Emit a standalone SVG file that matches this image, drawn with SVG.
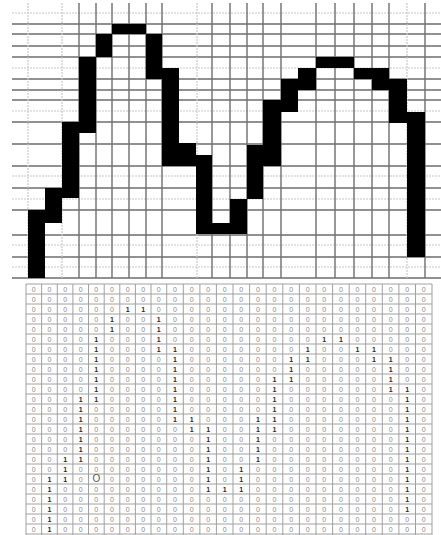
<svg xmlns="http://www.w3.org/2000/svg" width="441" height="535" viewBox="0 0 441 535">
<style>
.dk{stroke:#6e6e6e;stroke-width:1.4;fill:none}
.lt{stroke:#c8c8c8;stroke-width:1.2;stroke-dasharray:2 1;fill:none}
.bg{stroke:#a0a0a0;stroke-width:1;fill:none}
.num{font-family:"Liberation Sans",Arial,sans-serif;font-size:7px;fill:#8a8a8a;text-anchor:middle}
.one{fill:#2a2a2a;font-weight:bold}
</style>
<rect width="441" height="535" fill="#fff"/>
<g id="top-grid">
<path class="lt" d="M12 13H441M12 68H441M12 111H441M12 176H441M12 199H441M12 245H441M12 267H441"/>
<path class="dk" d="M12 24H441M12 34H441M12 46H441M12 57H441M12 79H441M12 90H441M12 100H441M12 122H441M12 144H441M12 166H441M12 188H441M12 210H441M12 235H441M12 257H441M12 278H441"/>
<path class="lt" d="M28 3V278M62 3V278M197 3V278M407 3V278"/>
<path class="dk" d="M79 3V278M96 3V278M112 3V278M129 3V278M146 3V278M162 3V278M212 3V278M230 3V278M247 3V278M263 3V278M281 3V278M316 3V278M335 3V278M354 3V278M372 3V278M389 3V278M425 3V278"/>
</g>
<g id="curve">
<path fill="#000" d="M28 210h17v68h-17zM45 188h17v35h-17zM62 122h17v76h-17zM79 57h17v76h-17zM96 34h16v23h-16zM112 24h34v10h-34zM146 34h16v45h-16zM162 68h17v98h-17zM179 143h17v23h-17zM196 155h16v79h-16zM212 223h18v11h-18zM230 199h17v35h-17zM247 145h16v54h-16zM263 100h18v66h-18zM281 79h17v33h-17zM298 68h18v22h-18zM316 57h38v11h-38zM354 68h18v11h-18zM372 68h17v22h-17zM389 79h18v44h-18zM407 112h18v145h-18z"/>
</g>
<g id="matrix-grid">
<path class="bg" d="M26 284H432M26 294H432M26 304H432M26 314H432M26 324H432M26 334H432M26 344H432M26 354H432M26 364H432M26 374H432M26 384H432M26 394H432M26 404H432M26 414H432M26 424H432M26 434H432M26 444H432M26 454H432M26 464H432M26 474H432M26 484H432M26 494H432M26 504H432M26 514H432M26 524H432M26 534H432"/>
<path class="bg" d="M26 284V535M41.6 284V535M57.3 284V535M72.9 284V535M88.5 284V535M104.2 284V535M119.8 284V535M135.4 284V535M151 284V535M166.7 284V535M183.3 284V535M199.9 284V535M216.4 284V535M233 284V535M249.6 284V535M266.2 284V535M282.8 284V535M299.4 284V535M316 284V535M332.6 284V535M349.2 284V535M365.7 284V535M382.3 284V535M398.9 284V535M415.5 284V535M432 284V535"/>
</g>
<g id="matrix-values" class="num">
<text x="33.8 49.4 65.1 80.7 96.3 111.9 127.6 143.2 158.8 175 191.6 208.2 224.8 241.3 257.9 274.5 291.1 307.7 324.3 340.9 357.5 374 390.6 407.2 423.8" y="291.5">0000000000000000000000000</text>
<text x="33.8 49.4 65.1 80.7 96.3 111.9 127.6 143.2 158.8 175 191.6 208.2 224.8 241.3 257.9 274.5 291.1 307.7 324.3 340.9 357.5 374 390.6 407.2 423.8" y="301.5">0000000000000000000000000</text>
<text x="33.8 49.4 65.1 80.7 96.3 111.9 127.6 143.2 158.8 175 191.6 208.2 224.8 241.3 257.9 274.5 291.1 307.7 324.3 340.9 357.5 374 390.6 407.2 423.8" y="311.5">000000<tspan class="one">11</tspan>00000000000000000</text>
<text x="33.8 49.4 65.1 80.7 96.3 111.9 127.6 143.2 158.8 175 191.6 208.2 224.8 241.3 257.9 274.5 291.1 307.7 324.3 340.9 357.5 374 390.6 407.2 423.8" y="321.5">00000<tspan class="one">1</tspan>00<tspan class="one">1</tspan>0000000000000000</text>
<text x="33.8 49.4 65.1 80.7 96.3 111.9 127.6 143.2 158.8 175 191.6 208.2 224.8 241.3 257.9 274.5 291.1 307.7 324.3 340.9 357.5 374 390.6 407.2 423.8" y="331.5">00000<tspan class="one">1</tspan>00<tspan class="one">1</tspan>0000000000000000</text>
<text x="33.8 49.4 65.1 80.7 96.3 111.9 127.6 143.2 158.8 175 191.6 208.2 224.8 241.3 257.9 274.5 291.1 307.7 324.3 340.9 357.5 374 390.6 407.2 423.8" y="341.5">0000<tspan class="one">1</tspan>000<tspan class="one">1</tspan>000000000<tspan class="one">11</tspan>00000</text>
<text x="33.8 49.4 65.1 80.7 96.3 111.9 127.6 143.2 158.8 175 191.6 208.2 224.8 241.3 257.9 274.5 291.1 307.7 324.3 340.9 357.5 374 390.6 407.2 423.8" y="351.5">0000<tspan class="one">1</tspan>000<tspan class="one">11</tspan>0000000<tspan class="one">1</tspan>00<tspan class="one">11</tspan>000</text>
<text x="33.8 49.4 65.1 80.7 96.3 111.9 127.6 143.2 158.8 175 191.6 208.2 224.8 241.3 257.9 274.5 291.1 307.7 324.3 340.9 357.5 374 390.6 407.2 423.8" y="361.5">0000<tspan class="one">1</tspan>0000<tspan class="one">1</tspan>000000<tspan class="one">11</tspan>000<tspan class="one">11</tspan>00</text>
<text x="33.8 49.4 65.1 80.7 96.3 111.9 127.6 143.2 158.8 175 191.6 208.2 224.8 241.3 257.9 274.5 291.1 307.7 324.3 340.9 357.5 374 390.6 407.2 423.8" y="371.5">0000<tspan class="one">1</tspan>0000<tspan class="one">1</tspan>000000<tspan class="one">1</tspan>00000<tspan class="one">1</tspan>00</text>
<text x="33.8 49.4 65.1 80.7 96.3 111.9 127.6 143.2 158.8 175 191.6 208.2 224.8 241.3 257.9 274.5 291.1 307.7 324.3 340.9 357.5 374 390.6 407.2 423.8" y="381.5">0000<tspan class="one">1</tspan>0000<tspan class="one">1</tspan>00000<tspan class="one">11</tspan>00000<tspan class="one">1</tspan>00</text>
<text x="33.8 49.4 65.1 80.7 96.3 111.9 127.6 143.2 158.8 175 191.6 208.2 224.8 241.3 257.9 274.5 291.1 307.7 324.3 340.9 357.5 374 390.6 407.2 423.8" y="391.5">0000<tspan class="one">1</tspan>0000<tspan class="one">1</tspan>00000<tspan class="one">1</tspan>000000<tspan class="one">11</tspan>0</text>
<text x="33.8 49.4 65.1 80.7 96.3 111.9 127.6 143.2 158.8 175 191.6 208.2 224.8 241.3 257.9 274.5 291.1 307.7 324.3 340.9 357.5 374 390.6 407.2 423.8" y="401.5">000<tspan class="one">11</tspan>0000<tspan class="one">1</tspan>00000<tspan class="one">1</tspan>0000000<tspan class="one">1</tspan>0</text>
<text x="33.8 49.4 65.1 80.7 96.3 111.9 127.6 143.2 158.8 175 191.6 208.2 224.8 241.3 257.9 274.5 291.1 307.7 324.3 340.9 357.5 374 390.6 407.2 423.8" y="411.5">000<tspan class="one">1</tspan>00000<tspan class="one">1</tspan>00000<tspan class="one">1</tspan>0000000<tspan class="one">1</tspan>0</text>
<text x="33.8 49.4 65.1 80.7 96.3 111.9 127.6 143.2 158.8 175 191.6 208.2 224.8 241.3 257.9 274.5 291.1 307.7 324.3 340.9 357.5 374 390.6 407.2 423.8" y="421.5">000<tspan class="one">1</tspan>00000<tspan class="one">11</tspan>000<tspan class="one">11</tspan>0000000<tspan class="one">1</tspan>0</text>
<text x="33.8 49.4 65.1 80.7 96.3 111.9 127.6 143.2 158.8 175 191.6 208.2 224.8 241.3 257.9 274.5 291.1 307.7 324.3 340.9 357.5 374 390.6 407.2 423.8" y="431.5">000<tspan class="one">1</tspan>000000<tspan class="one">11</tspan>00<tspan class="one">11</tspan>0000000<tspan class="one">1</tspan>0</text>
<text x="33.8 49.4 65.1 80.7 96.3 111.9 127.6 143.2 158.8 175 191.6 208.2 224.8 241.3 257.9 274.5 291.1 307.7 324.3 340.9 357.5 374 390.6 407.2 423.8" y="441.5">000<tspan class="one">1</tspan>0000000<tspan class="one">1</tspan>00<tspan class="one">1</tspan>00000000<tspan class="one">1</tspan>0</text>
<text x="33.8 49.4 65.1 80.7 96.3 111.9 127.6 143.2 158.8 175 191.6 208.2 224.8 241.3 257.9 274.5 291.1 307.7 324.3 340.9 357.5 374 390.6 407.2 423.8" y="451.5">000<tspan class="one">1</tspan>0000000<tspan class="one">1</tspan>00<tspan class="one">1</tspan>00000000<tspan class="one">1</tspan>0</text>
<text x="33.8 49.4 65.1 80.7 96.3 111.9 127.6 143.2 158.8 175 191.6 208.2 224.8 241.3 257.9 274.5 291.1 307.7 324.3 340.9 357.5 374 390.6 407.2 423.8" y="461.5">00<tspan class="one">11</tspan>0000000<tspan class="one">1</tspan>00<tspan class="one">1</tspan>00000000<tspan class="one">1</tspan>0</text>
<text x="33.8 49.4 65.1 80.7 96.3 111.9 127.6 143.2 158.8 175 191.6 208.2 224.8 241.3 257.9 274.5 291.1 307.7 324.3 340.9 357.5 374 390.6 407.2 423.8" y="471.5">00<tspan class="one">1</tspan>00000000<tspan class="one">1</tspan>0<tspan class="one">1</tspan>000000000<tspan class="one">1</tspan>0</text>
<text x="33.8 49.4 65.1 80.7 96.3 111.9 127.6 143.2 158.8 175 191.6 208.2 224.8 241.3 257.9 274.5 291.1 307.7 324.3 340.9 357.5 374 390.6 407.2 423.8" y="481.5">0<tspan class="one">11</tspan>0<tspan style="font-size:10px;fill:#555">O</tspan>000000<tspan class="one">1</tspan>0<tspan class="one">1</tspan>000000000<tspan class="one">1</tspan>0</text>
<text x="33.8 49.4 65.1 80.7 96.3 111.9 127.6 143.2 158.8 175 191.6 208.2 224.8 241.3 257.9 274.5 291.1 307.7 324.3 340.9 357.5 374 390.6 407.2 423.8" y="491.5">0<tspan class="one">1</tspan>000000000<tspan class="one">111</tspan>000000000<tspan class="one">1</tspan>0</text>
<text x="33.8 49.4 65.1 80.7 96.3 111.9 127.6 143.2 158.8 175 191.6 208.2 224.8 241.3 257.9 274.5 291.1 307.7 324.3 340.9 357.5 374 390.6 407.2 423.8" y="501.5">0<tspan class="one">1</tspan>000000000000000000000<tspan class="one">1</tspan>0</text>
<text x="33.8 49.4 65.1 80.7 96.3 111.9 127.6 143.2 158.8 175 191.6 208.2 224.8 241.3 257.9 274.5 291.1 307.7 324.3 340.9 357.5 374 390.6 407.2 423.8" y="511.5">0<tspan class="one">1</tspan>000000000000000000000<tspan class="one">1</tspan>0</text>
<text x="33.8 49.4 65.1 80.7 96.3 111.9 127.6 143.2 158.8 175 191.6 208.2 224.8 241.3 257.9 274.5 291.1 307.7 324.3 340.9 357.5 374 390.6 407.2 423.8" y="521.5">0<tspan class="one">1</tspan>00000000000000000000000</text>
<text x="33.8 49.4 65.1 80.7 96.3 111.9 127.6 143.2 158.8 175 191.6 208.2 224.8 241.3 257.9 274.5 291.1 307.7 324.3 340.9 357.5 374 390.6 407.2 423.8" y="531.5">0<tspan class="one">1</tspan>00000000000000000000000</text>
</g>
</svg>
